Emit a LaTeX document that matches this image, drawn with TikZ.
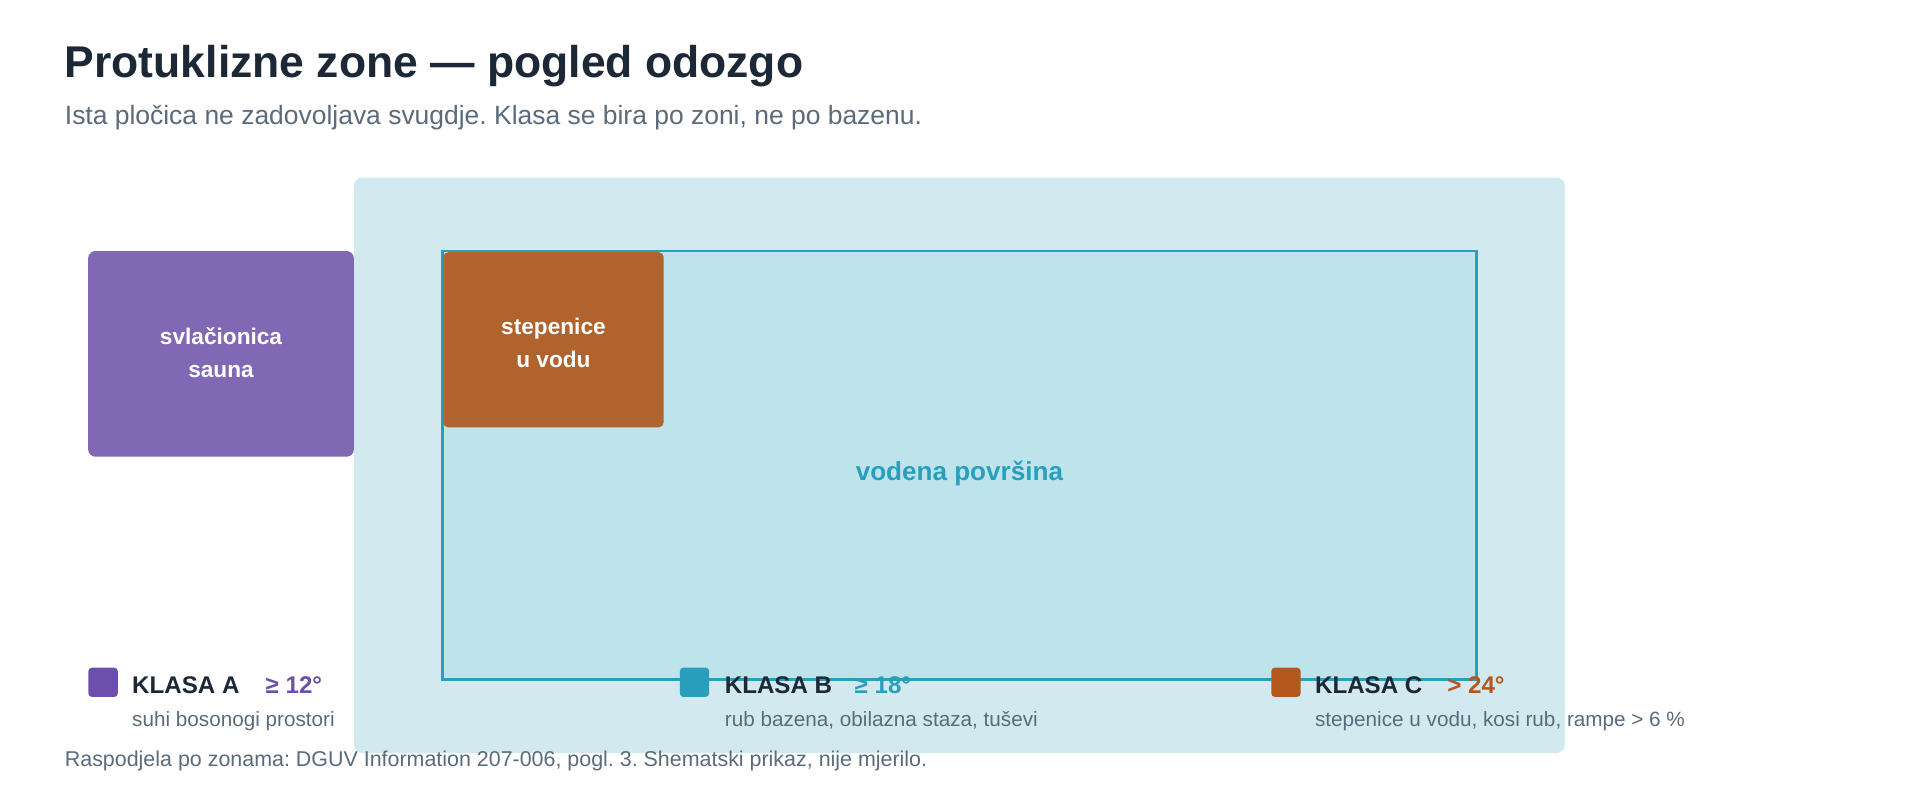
\documentclass[tikz,border=0pt]{standalone}
\usepackage{fontspec}
\setmainfont{Liberation Sans}
\frenchspacing
\definecolor{titlec}{HTML}{1C2836}
\definecolor{greyc}{HTML}{5B6B7B}
\definecolor{deckc}{HTML}{D1E9EF}
\definecolor{poolc}{HTML}{BDE3EB}
\definecolor{tealc}{HTML}{2A9FBD}
\definecolor{purpbox}{HTML}{8068B4}
\definecolor{purpc}{HTML}{6C4FAC}
\definecolor{stairc}{HTML}{B0632D}
\definecolor{orangec}{HTML}{B4571D}
\tikzset{
  txt/.style={inner sep=0pt, outer sep=0pt},
  areabox/.style={rectangle, inner sep=0pt, outer sep=0pt, anchor=north west},
  swatch/.style={rectangle, rounded corners=3pt, inner sep=0pt, minimum size=24pt, anchor=north west},
  zonelabel/.style={txt, text=white, font=\fontsize{18.5}{27}\selectfont\bfseries, align=center},
  klasa/.style={txt, anchor=base west, font=\fontsize{19.7}{22}\selectfont\bfseries},
  desc/.style={txt, anchor=base west, text=greyc, font=\fontsize{16.9}{20}\selectfont},
}
\begin{document}
\begin{tikzpicture}[x=1pt,y=-1pt]
\useasboundingbox (0,0) rectangle (1568,652);
\fill[white] (0,0) rectangle (1568,652);
% title
\node[txt, anchor=base west, text=titlec, font=\fontsize{36.3}{40}\selectfont\bfseries] (title) at (53,63) {Protuklizne zone — pogled odozgo};
\node[txt, anchor=base west, text=greyc, font=\fontsize{21.6}{25}\selectfont] (subtitle) at (53,102) {Ista pločica ne zadovoljava svugdje. Klasa se bira po zoni, ne po bazenu.};
% deck
\node[areabox, fill=deckc, rounded corners=7pt, minimum width=989pt, minimum height=470pt] (deck) at (289,145) {};
% pool
\node[areabox, fill=poolc, draw=tealc, line width=2.4pt, minimum width=845pt, minimum height=350pt] (pool) at (361,205) {};
% stairs
\node[areabox, fill=stairc, rounded corners=4pt, minimum width=180pt, minimum height=143pt] (stairs) at (362,206) {};
% changing room
\node[areabox, fill=purpbox, rounded corners=6pt, minimum width=217pt, minimum height=168pt] (room) at (72,205) {};
\node[zonelabel] (roomlbl) at (180.5,288) {svlačionica\\sauna};
\node[zonelabel] (stairslbl) at (452,280) {stepenice\\u vodu};
\node[txt, text=tealc, font=\fontsize{21.3}{24}\selectfont\bfseries] (water) at (783.5,387) {vodena površina};
% legend A
\node[swatch, fill=purpc] (swA) at (72,545) {};
\node[klasa, text=titlec] (kA) at (108,566) {KLASA A};
\node[klasa, text=purpc] (vA) at (217,566) {≥ 12°};
\node[desc] (dA) at (108,593) {suhi bosonogi prostori};
% legend B
\node[swatch, fill=tealc] (swB) at (555,545) {};
\node[klasa, text=titlec] (kB) at (592,566) {KLASA B};
\node[klasa, text=tealc] (vB) at (698,566) {≥ 18°};
\node[desc] (dB) at (592,593) {rub bazena, obilazna staza, tuševi};
% legend C
\node[swatch, fill=orangec] (swC) at (1038,545) {};
\node[klasa, text=titlec] (kC) at (1074,566) {KLASA C};
\node[klasa, text=orangec] (vC) at (1182,566) {> 24°};
\node[desc] (dC) at (1074,593) {stepenice u vodu, kosi rub, rampe > 6 \%};
% footer
\node[desc, font=\fontsize{17.5}{20}\selectfont] (foot) at (53,626) {Raspodjela po zonama: DGUV Information 207-006, pogl. 3. Shematski prikaz, nije mjerilo.};
\end{tikzpicture}
\end{document}
